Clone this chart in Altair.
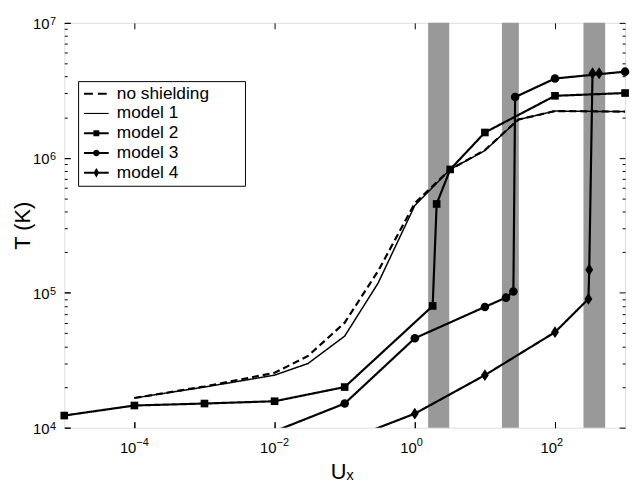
import math
import altair as alt
import pandas as pd

FONT = "Liberation Sans"

# ---------------- data ----------------
series_names = ["no shielding", "model 1", "model 2", "model 3", "model 4"]

ns_x = [1e-4, 1e-3, 1e-2, 3e-2, 1e-1, 3e-1, 1, 3.2, 10, 30, 100, 1000]
ns_y = [1.66e4, 2.02e4, 2.55e4, 3.4e4, 6.0e4, 1.45e5, 4.6e5, 8.2e5, 1.14e6, 1.92e6, 2.22e6, 2.2e6]

m1_x = [1e-4, 1e-3, 1e-2, 3e-2, 1e-1, 3e-1, 1, 3.2, 10, 30, 100, 1000]
m1_y = [1.66e4, 2.0e4, 2.45e4, 2.99e4, 4.77e4, 1.18e5, 4.43e5, 8.2e5, 1.13e6, 1.92e6, 2.22e6, 2.2e6]

m2_x = [1e-5, 1e-4, 1e-3, 1e-2, 1e-1, 1.8, 2.05, 3.2, 10, 100, 1000]
m2_y = [1.23e4, 1.46e4, 1.51e4, 1.57e4, 2.0e4, 7.98e4, 4.55e5, 8.2e5, 1.54e6, 2.88e6, 3.02e6]

m3_x = [1e-2, 1e-1, 1, 10, 20, 25.5, 27, 100, 1000]
m3_y = [9.4e3, 1.51e4, 4.6e4, 7.85e4, 9.2e4, 1.02e5, 2.82e6, 3.87e6, 4.35e6]

m4_x = [0.1, 1, 10, 100, 300, 308, 343, 426]
m4_y = [8.0e3, 1.27e4, 2.45e4, 5.1e4, 9.0e4, 1.48e5, 4.23e6, 4.23e6]

band_lo = [1.55, 17.5, 255]
band_hi = [3.1, 30.5, 520]
band_ylo = [1e4, 1e4, 1e4]
band_yhi = [1e7, 1e7, 1e7]

x_domain = [1e-5, 1e3]
y_domain = [1e4, 1e7]
xtick_values = [1e-4, 1e-2, 1, 100]
xtick_exponents = ["\u22124", "\u22122", "0", "2"]
ytick_values = [1e4, 1e5, 1e6, 1e7]
ytick_exponents = ["4", "5", "6", "7"]
ytick_minor = [m * 10 ** k for k in (4, 5, 6) for m in range(2, 10)]

legend_paths = [
    "M-1.56,-0.13H-0.44V0.13H-1.56Z M0.19,-0.13H1.31V0.13H0.19Z",
    "M-1.56,-0.07H1.56V0.07H-1.56Z",
    "M-1.56,-0.12H1.56V0.12H-1.56Z M-0.37,-0.37H0.37V0.37H-0.37Z",
    "M-1.56,-0.12H1.56V0.12H-1.56Z M-0.42,0A0.42,0.42,0,1,1,0.42,0A0.42,0.42,0,1,1,-0.42,0Z",
    "M-1.56,-0.12H1.56V0.12H-1.56Z M0,-0.6L0.36,0L0,0.6L-0.36,0Z",
]
diamond_path = "M0,-1.2L0.8,0L0,1.2L-0.8,0Z"

# ---------------- tables ----------------
rows = []
for name, xs_, ys_ in zip(series_names, [ns_x, m1_x, m2_x, m3_x, m4_x], [ns_y, m1_y, m2_y, m3_y, m4_y]):
    for i, (a, b) in enumerate(zip(xs_, ys_)):
        rows.append({"series": name, "x": a, "y": b, "idx": i})
df_lines = pd.DataFrame(rows)
df_pts = df_lines[df_lines["series"].isin(["model 2", "model 3", "model 4"])].copy()
df_bands = pd.DataFrame({"lo": band_lo, "hi": band_hi, "ylo": band_ylo, "yhi": band_yhi})
df_leg = pd.DataFrame({"label": series_names, "lx": [1.0] * 5, "ly": [1e5] * 5})


def label_expr(values, labels):
    parts = [f"abs(log(datum.value)/LN10 - ({round(math.log10(v))})) < 0.01 ? '{l}'"
             for v, l in zip(values, labels)]
    return " : ".join(parts) + " : ''"


xs = alt.Scale(type="log", domain=x_domain, nice=False)
ys = alt.Scale(type="log", domain=y_domain, nice=False)

common = dict(grid=False, domain=False, tickColor="black", tickWidth=1,
              labelColor="black", labelFont=FONT,
              labelFlush=False, labelOverlap=False,
              titleColor="black", titleFont=FONT, titleFontSize=22,
              titleFontWeight="normal")

x_bottom = alt.Axis(orient="bottom", values=xtick_values, labelExpr="'10'",
                    labelFontSize=15, offset=-6, tickSize=6, labelPadding=25,
                    labelBaseline="alphabetic", labelAlign="right", labelOffset=1.5,
                    title="U\u2093", titleX=281, titleY=57,
                    titleBaseline="alphabetic", titleAlign="center", **common)
x_bottom_exp = alt.Axis(orient="bottom", values=xtick_values,
                        labelExpr=label_expr(xtick_values, xtick_exponents),
                        labelFontSize=11, offset=-6, tickSize=6, labelPadding=18,
                        labelBaseline="alphabetic", labelAlign="left", labelOffset=1.5,
                        title=None, **common)
x_top = alt.Axis(orient="top", values=xtick_values, labels=False,
                 offset=-6, tickSize=6, title=None, **common)
y_left = alt.Axis(orient="left", values=ytick_values, labelExpr="'10'",
                  labelFontSize=15, offset=-6, tickSize=6, labelPadding=15.5,
                  labelBaseline="alphabetic", labelAlign="right", labelOffset=6,
                  title="T (K)", titleX=-36, titleY=205, titleAngle=270,
                  titleBaseline="bottom", titleAlign="center", **common)
y_left_exp = alt.Axis(orient="left", values=ytick_values,
                      labelExpr=label_expr(ytick_values, ytick_exponents),
                      labelFontSize=11, offset=-6, tickSize=6, labelPadding=15,
                      labelBaseline="alphabetic", labelAlign="left", labelOffset=2,
                      title=None, **common)
y_left_minor = alt.Axis(orient="left", values=ytick_minor, labels=False,
                        offset=-3, tickSize=3, title=None, **common)
y_right = alt.Axis(orient="right", values=ytick_values, labels=False,
                   offset=-6, tickSize=6, title=None, **common)
y_right_minor = alt.Axis(orient="right", values=ytick_minor, labels=False,
                         offset=-3, tickSize=3, title=None, **common)

bands = alt.Chart(df_bands).mark_rect(color="#999999").encode(
    x=alt.X("lo:Q", scale=xs, axis=x_bottom),
    x2="hi:Q",
    y=alt.Y("ylo:Q", scale=ys, axis=y_right_minor),
    y2="yhi:Q",
)

lines = alt.Chart(df_lines).mark_line(color="black", clip=True).encode(
    x=alt.X("x:Q", scale=xs, axis=x_top),
    y=alt.Y("y:Q", scale=ys, axis=y_left),
    detail="series:N",
    order="idx:Q",
    strokeDash=alt.condition(alt.datum.series == "no shielding", alt.value([7, 4]), alt.value([1, 0])),
    strokeWidth=alt.condition(alt.datum.series == "model 1", alt.value(1.5), alt.value(2.2)),
)


def pts(series, shape, size, xaxis, yaxis):
    return alt.Chart(df_pts).transform_filter(
        (alt.datum.series == series) & (alt.datum.y >= y_domain[0])
    ).mark_point(shape=shape, filled=True, color="black", opacity=1, size=size).encode(
        x=alt.X("x:Q", scale=xs, axis=xaxis),
        y=alt.Y("y:Q", scale=ys, axis=yaxis),
    )


squares = pts("model 2", "square", 60, x_bottom_exp, y_left_minor)
circles = pts("model 3", "circle", 75, None, y_right)
diamonds = pts("model 4", diamond_path, 100, None, y_left_exp)

# an invisible right-hand title gives the legend box its empty right margin
leg = alt.Legend(orient="none", legendX=14, legendY=59,
                 title="\u00a0", titleOrient="right", titlePadding=32, titleFontSize=2,
                 symbolSize=256, symbolOffset=5.75, symbolStrokeWidth=0,
                 symbolFillColor="black", labelOffset=12,
                 padding=4, rowPadding=1, strokeColor="black", fillColor="white",
                 labelFont=FONT, labelFontSize=17.5, labelColor="black",
                 labelBaseline="middle", labelLimit=400)

legend_layer = alt.Chart(df_leg).transform_filter("false").mark_point(
    filled=True, color="black", opacity=1
).encode(
    x=alt.X("lx:Q", scale=xs, axis=None),
    y=alt.Y("ly:Q", scale=ys, axis=None),
    shape=alt.Shape("label:N", scale=alt.Scale(domain=series_names, range=legend_paths), legend=leg),
)

chart = alt.layer(bands, lines, squares, circles, diamonds, legend_layer).resolve_axis(
    x="independent", y="independent"
).properties(
    width=568, height=410,
    autosize=alt.AutoSizeParams(type="none"),
    padding={"left": 57, "top": 12, "right": 7, "bottom": 55},
).configure_view(stroke="black", strokeWidth=1).configure(font=FONT, background="white")

chart.save("out.html", embed_options={"renderer": "svg", "actions": False})
